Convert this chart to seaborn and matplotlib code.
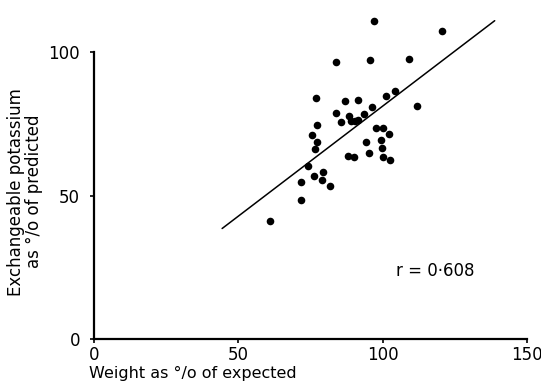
import numpy as np
import pandas as pd
import matplotlib
matplotlib.use("Agg")
import matplotlib.pyplot as plt
import seaborn as sns

# Points (weight %, exchangeable K %)
weight_pct = [97.0, 120.6, 83.7, 95.6, 109.2, 104.4, 101.2, 76.9, 86.8, 91.4,
              112.0, 96.2, 83.7, 93.5, 88.3, 85.6, 88.9, 90.4, 91.4, 77.4,
              97.7, 100.0, 75.4, 102.3, 77.3, 94.2, 99.3, 76.4, 99.6, 95.4,
              87.9, 89.9, 100.0, 102.4, 74.2, 79.5, 76.2, 71.7, 79.0, 81.7,
              71.8, 61.0]
potassium_pct = [111.0, 107.4, 96.5, 97.4, 97.7, 86.5, 84.6, 84.1, 83.1, 83.4,
                 81.3, 80.8, 78.8, 78.6, 77.8, 75.7, 75.9, 76.2, 76.5, 74.6,
                 73.6, 73.5, 71.3, 71.5, 68.9, 68.8, 69.5, 66.3, 66.6, 64.9,
                 63.8, 63.4, 63.6, 62.5, 60.4, 58.2, 56.9, 54.7, 55.5, 53.5,
                 48.5, 41.1]

# regression line as drawn in the figure (end points)
fit_x = [44.4, 138.8]
fit_y = [38.6, 111.0]
r_label = "r = 0\u00b7608"

df = pd.DataFrame({"weight": weight_pct, "potassium": potassium_pct})
fit = pd.DataFrame({"weight": fit_x, "potassium": fit_y})

sns.set_style("ticks")
plt.rcParams['font.family'] = ['DejaVu Sans']
plt.rcParams['text.color'] = 'black'
plt.rcParams['axes.labelcolor'] = 'black'

fig = plt.figure(figsize=(5.41, 3.84), dpi=100)
ax = fig.add_axes([0.1736, 0.1164, 0.8006, 0.882])

sns.lineplot(data=fit, x="weight", y="potassium", color="black", linewidth=1.1, ax=ax)
sns.scatterplot(data=df, x="weight", y="potassium", color="black", s=30,
                edgecolor="black", linewidth=0, ax=ax, zorder=3)

ax.set_xlim(0, 150)
ax.set_ylim(0, 118)
ax.set_xticks([0, 50, 100, 150])
ax.set_yticks([0, 50, 100])
ax.tick_params(axis="both", direction="out", length=3, width=1.2,
               labelsize=12, color="black", labelcolor="black")
ax.tick_params(axis="x", pad=1.5)
ax.tick_params(axis="y", pad=7)

sns.despine(ax=ax)
ax.spines["left"].set_bounds(0, 100)
ax.spines["bottom"].set_bounds(0, 150)
for sp in ("left", "bottom"):
    ax.spines[sp].set_linewidth(1.6)
    ax.spines[sp].set_color("black")

ax.set_xlabel("Weight as \u00b0/o of expected", fontsize=11.5, ha="left", va="center")
ax.xaxis.set_label_coords(-0.011, -0.1)
ax.set_ylabel("Exchangeable potassium\nas \u00b0/o of predicted", fontsize=12,
              ha="center", va="center", linespacing=1.0)
ax.yaxis.set_label_coords(-0.159, 0.436)

ax.text(104.5, 23.9, r_label, fontsize=12, va="center", ha="left")

fig.savefig("out.png", dpi=100)
